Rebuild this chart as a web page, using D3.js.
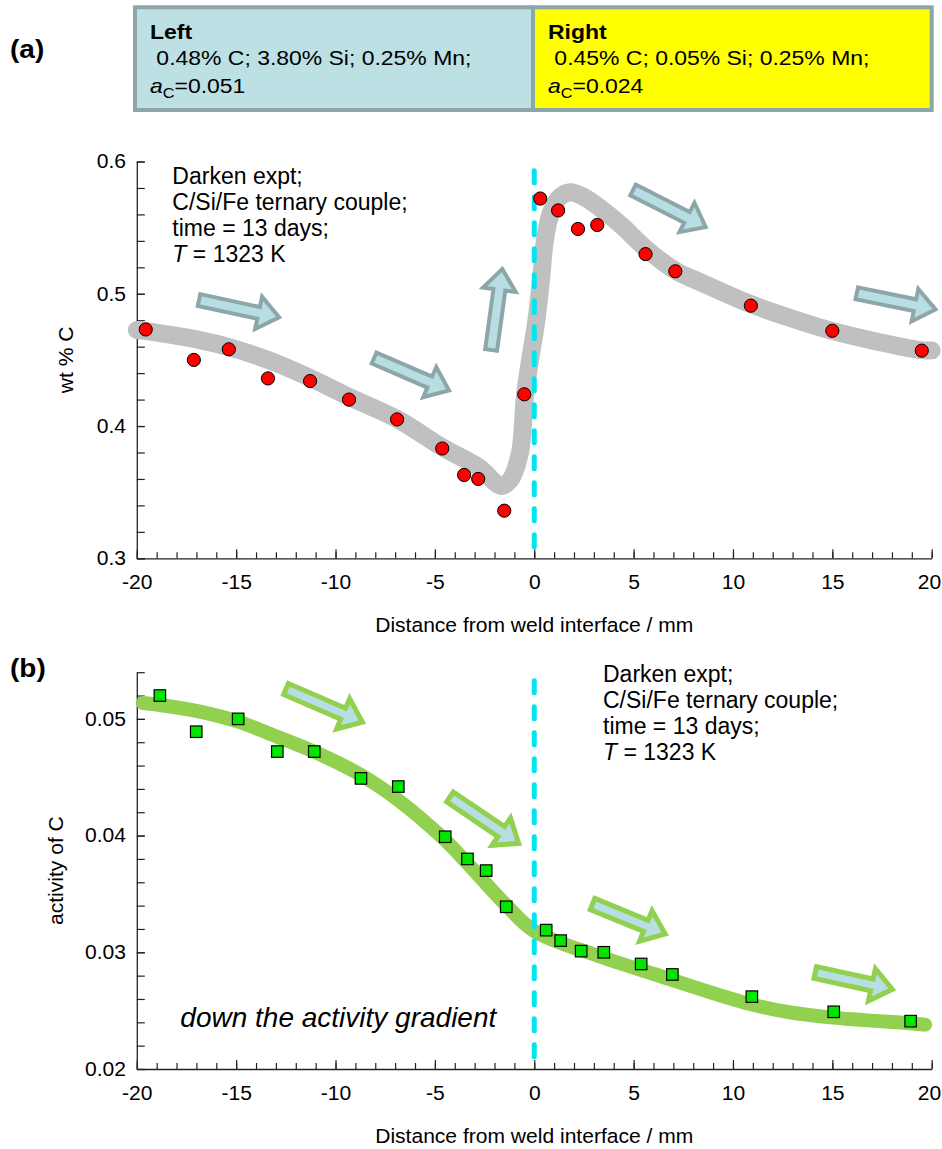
<!DOCTYPE html>
<html>
<head>
<meta charset="utf-8">
<script src="https://cdn.jsdelivr.net/npm/d3@7"></script>
<style>
  body { margin: 0; background: #fff; }
  svg { display: block; font-family: "Liberation Sans", Arial, Helvetica, sans-serif; }
</style>
</head>
<body>
<svg id="chart" width="942" height="1149"></svg>
<script>
// ---------- Data ----------
// (a) measured carbon content across the weld
const carbonDist = [-19.55, -17.13, -15.37, -13.4, -11.28, -9.32, -6.9, -4.63, -3.53, -2.82, -1.51,
                    -0.5, 0.3, 1.2, 2.2, 3.17, 5.6, 7.1, 10.9, 15.0, 19.5];
const carbonWt   = [0.473, 0.450, 0.458, 0.436, 0.434, 0.420, 0.405, 0.383, 0.363, 0.360, 0.336,
                    0.424, 0.572, 0.563, 0.549, 0.552, 0.530, 0.517, 0.491, 0.472, 0.457];
// (a) smoothed profile drawn through the measurements
const carbonFitDist = [-20, -19.54, -16.82, -15.36, -13.4, -11.28, -9.32, -6.9, -4.64, -3.53, -2.73, -1.67,
                       -1.21, -0.73, -0.46, -0.21, 0.09, 0.34, 0.54, 0.85, 1.3, 1.8, 2.46, 3.31, 4.42,
                       5.58, 7.09, 8.34, 10.87, 12.88, 14.99, 16.9, 19.47, 20.0];
const carbonFitWt   = [0.4726, 0.4717, 0.465, 0.4597, 0.450, 0.4364, 0.4220, 0.4053, 0.3841, 0.3751, 0.3682, 0.3547,
                       0.3592, 0.379, 0.4242, 0.450, 0.4779, 0.5104, 0.5406, 0.5618, 0.5732, 0.5768, 0.5735, 0.5649, 0.5512,
                       0.5346, 0.5176, 0.5089, 0.4923, 0.4817, 0.4719, 0.465, 0.4574, 0.4572];

// (b) carbon activity across the weld
const activityDist = [-18.84, -17.01, -14.9, -12.93, -11.07, -8.72, -6.84, -4.48, -3.36, -2.42, -1.41,
                      0.6, 1.33, 2.36, 3.5, 5.38, 6.95, 10.95, 15.07, 18.94];
const activityVal  = [0.0520, 0.0489, 0.0500, 0.0472, 0.0472, 0.0449, 0.0442, 0.0399, 0.0380, 0.0370, 0.0339,
                      0.0319, 0.0310, 0.0301, 0.0300, 0.0290, 0.0281, 0.0262, 0.0249, 0.0241];
// (b) smoothed activity profile
const activityFitDist = [-19.69, -18.83, -16.82, -14.9, -12.94, -11.08, -8.72, -6.85, -4.49, -3.38, -1.42,
                         0, 3.34, 6.37, 8.6, 10.9, 12.8, 15.03, 18.91, 19.67];
const activityFitVal  = [0.05136, 0.05119, 0.05062, 0.04976, 0.04847, 0.04719, 0.04519, 0.04305, 0.03962, 0.03765, 0.03405,
                         0.03183, 0.02962, 0.02795, 0.02672, 0.02555, 0.02487, 0.02440, 0.02392, 0.02380];

// Axis ticks
const xTicks  = [-20, -15, -10, -5, 0, 5, 10, 15, 20];
const yTicksA = [0.3, 0.4, 0.5, 0.6];
const yLabelsA = ["0.3", "0.4", "0.5", "0.6"];
const yTicksB = [0.02, 0.03, 0.04, 0.05];
const yLabelsB = ["0.02", "0.03", "0.04", "0.05"];

// Header: the two halves of the couple
const sideNames = ["Left", "Right"];
const sideCompositions = [" 0.48% C; 3.80% Si; 0.25% Mn;", " 0.45% C; 0.05% Si; 0.25% Mn;"];
const sideActivities = ["0.051", "0.024"];

// Annotation text
const exptLines = ["Darken expt;", "C/Si/Fe ternary couple;", "time = 13 days;", "= 1323 K"];

// Direction-of-flow arrows, [tailX, tailY, tipX, tipY] in axis units
const arrowsA = [[-16.87, 0.4953, -12.69, 0.4817], [-8.06, 0.4514, -4.15, 0.426], [-2.17, 0.4575, -1.59, 0.521],
                 [4.97, 0.5785, 8.76, 0.5495], [16.23, 0.5004, 20.34, 0.4877]];
const arrowsB = [[-12.49, 0.05256, -8.51, 0.04962], [-4.24, 0.04331, -0.66, 0.03919],
                 [2.93, 0.03414, 6.73, 0.03148], [14.14, 0.02827, 18.17, 0.02677]];

// ---------- Layout ----------
const svg = d3.select("#chart");
const xA = d3.scaleLinear().domain([-20, 20]).range([136.8, 931.7]);
const yA = d3.scaleLinear().domain([0.3, 0.6]).range([558.3, 161.5]);
const xB = d3.scaleLinear().domain([-20, 20]).range([136.8, 931.7]);
const yB = d3.scaleLinear().domain([0.02, 0.054]).range([1069, 672.2]);

const AXIS_COLOR = "#222";
const TICK_FONT = 19.5, STRETCH = 1.08;

// ---------- Header boxes ----------
const header = svg.append("g");
const boxX = [135, 533], boxW = [398, 398.7], boxFill = ["#BCE0E3", "#FFFF00"];
sideNames.forEach((name, i) => {
  header.append("rect")
    .attr("x", boxX[i]).attr("y", 7.3).attr("width", boxW[i]).attr("height", 102.7)
    .attr("fill", boxFill[i]).attr("stroke", "#8DA6A9").attr("stroke-width", 4);
  const tx = boxX[i] + 15;
  const hs = 1.12, fs = 20.5;
  header.append("text")
    .attr("transform", `translate(${tx},38.5) scale(${hs},1)`)
    .attr("font-size", fs).attr("font-weight", "bold").attr("fill", "#000")
    .text(name);
  header.append("text")
    .attr("transform", `translate(${tx},65) scale(${hs},1)`)
    .attr("font-size", fs).attr("fill", "#000")
    .style("white-space", "pre")
    .text(sideCompositions[i]);
  const act = header.append("text")
    .attr("transform", `translate(${tx},93) scale(${hs},1)`)
    .attr("font-size", fs).attr("fill", "#000");
  act.append("tspan").attr("font-style", "italic").text("a");
  act.append("tspan").attr("font-size", 14.5).attr("dy", 5).text("C");
  act.append("tspan").attr("dy", -5).text("=" + sideActivities[i]);
});

// Panel letters
svg.append("text").attr("transform", "translate(10,58) scale(1.12,1)")
  .attr("font-size", 25).attr("font-weight", "bold").text("(a)");
svg.append("text").attr("transform", "translate(10,677) scale(1.12,1)")
  .attr("font-size", 25).attr("font-weight", "bold").text("(b)");

// ---------- Axes ----------
function drawAxes(x, y, yMajor, yLabels, yMinorStep, yTitle, yTitleX) {
  const x0 = x.range()[0], yBase = y.range()[0];
  const g = svg.append("g");
  const yMinor = d3.range(y.domain()[0], y.domain()[1] + yMinorStep / 2, yMinorStep);

  // y axis: minor then labelled majors, ticks pointing inwards
  const gyMinor = g.append("g").attr("transform", `translate(${x0},0)`)
    .call(d3.axisLeft(y).tickValues(yMinor).tickSize(-8).tickSizeOuter(0).tickFormat(""));
  gyMinor.select(".domain").remove();
  g.append("g").attr("transform", `translate(${x0},0)`)
    .call(d3.axisLeft(y).tickValues(yMajor).tickSize(-8).tickSizeOuter(0).tickPadding(10)
      .tickFormat((d, i) => yLabels[i]));

  // x axis: unit minor ticks and labelled majors
  const gxMinor = g.append("g").attr("transform", `translate(0,${yBase})`)
    .call(d3.axisBottom(x).tickValues(d3.range(-20, 21, 1)).tickSize(-6).tickSizeOuter(0).tickFormat(""));
  gxMinor.select(".domain").remove();
  const gx = g.append("g").attr("transform", `translate(0,${yBase})`)
    .call(d3.axisBottom(x).tickValues(xTicks).tickSize(-9).tickSizeOuter(0).tickPadding(17)
      .tickFormat(d => String(d)));

  g.selectAll(".domain").attr("stroke", AXIS_COLOR).attr("stroke-width", 1.3);
  g.selectAll(".tick line").attr("stroke", AXIS_COLOR).attr("stroke-width", 1.2);
  g.selectAll("g").attr("font-family", null).attr("font-size", null);
  g.selectAll(".tick text").attr("fill", "#000").attr("font-size", TICK_FONT)
    .attr("transform", `scale(${STRETCH},1)`);
  // keep the last label inside the page edge
  gx.selectAll(".tick text").filter(d => d === 20).attr("dx", -2.5);

  // Axis titles
  g.append("text")
    .attr("transform", `translate(${(x.range()[0] + x.range()[1]) / 2},${yBase + 74}) scale(${STRETCH},1)`)
    .attr("text-anchor", "middle").attr("font-size", TICK_FONT).attr("fill", "#000")
    .text("Distance from weld interface / mm");
  const ym = (y.range()[0] + y.range()[1]) / 2;
  g.append("text")
    .attr("transform", `translate(${yTitleX},${ym}) rotate(-90) scale(${STRETCH},1)`)
    .attr("text-anchor", "middle").attr("dy", "0.35em").attr("font-size", TICK_FONT).attr("fill", "#000")
    .text(yTitle);
}

drawAxes(xA, yA, yTicksA, yLabelsA, 0.02, "wt % C", 66);
drawAxes(xB, yB, yTicksB, yLabelsB, 0.002, "activity of C", 56);

// ---------- Marks ----------
function flowArrow(g, x, y, a, fill, stroke, sw) {
  const p0 = [x(a[0]), y(a[1])], p1 = [x(a[2]), y(a[3])];
  const L = Math.hypot(p1[0] - p0[0], p1[1] - p0[1]);
  const ang = Math.atan2(p1[1] - p0[1], p1[0] - p0[0]) * 180 / Math.PI;
  const w = 6, H = 16.5, h = 21, tip = L - 3;
  const pts = [[0, -w], [tip - h, -w], [tip - h, -H], [tip, 0], [tip - h, H], [tip - h, w], [0, w]];
  g.append("path")
    .attr("transform", `translate(${p0[0]},${p0[1]}) rotate(${ang})`)
    .attr("d", "M" + pts.map(p => p.join(",")).join("L") + "Z")
    .attr("fill", fill).attr("stroke", stroke).attr("stroke-width", sw)
    .attr("stroke-linejoin", "miter");
}

function interfaceLine(g, x, y, yTop, yBottom) {
  g.append("line")
    .attr("x1", x(0)).attr("x2", x(0)).attr("y1", y(yTop)).attr("y2", y(yBottom))
    .attr("stroke", "#00E5F0").attr("stroke-width", 5)
    .attr("stroke-linecap", "round").attr("stroke-dasharray", "12,14");
}

function exptNote(g, x, y, px, py, size) {
  const t = g.append("text").attr("font-size", size).attr("fill", "#000");
  exptLines.forEach((line, i) => {
    const s = t.append("tspan").attr("x", x(px)).attr("y", y(py) + i * 26);
    if (i === 3) {
      s.append("tspan").attr("font-style", "italic").text("T");
      s.append("tspan").text(" " + line);
    } else {
      s.text(line);
    }
  });
}

// Panel (a)
const gA = svg.append("g");
gA.append("path")
  .datum(d3.zip(carbonFitDist, carbonFitWt))
  .attr("d", d3.line().x(d => xA(d[0])).y(d => yA(d[1])).curve(d3.curveCatmullRom.alpha(0.5)))
  .attr("fill", "none").attr("stroke", "#C0C0C0").attr("stroke-width", 18)
  .attr("stroke-linecap", "round").attr("stroke-linejoin", "round");
interfaceLine(gA, xA, yA, 0.593, 0.3);
gA.selectAll("circle.pt").data(d3.zip(carbonDist, carbonWt)).join("circle")
  .attr("class", "pt")
  .attr("cx", d => xA(d[0])).attr("cy", d => yA(d[1])).attr("r", 6.6)
  .attr("fill", "#FF0000").attr("stroke", "#000").attr("stroke-width", 1);
arrowsA.forEach(a => flowArrow(gA, xA, yA, a, "#B7DEE2", "#8DA6A9", 4));
exptNote(gA, xA, yA, -18.21, 0.58276, 23);

// Panel (b)
const gB = svg.append("g");
gB.append("path")
  .datum(d3.zip(activityFitDist, activityFitVal))
  .attr("d", d3.line().x(d => xB(d[0])).y(d => yB(d[1])).curve(d3.curveCatmullRom.alpha(0.5)))
  .attr("fill", "none").attr("stroke", "#92D050").attr("stroke-width", 14)
  .attr("stroke-linecap", "round").attr("stroke-linejoin", "round");
interfaceLine(gB, xB, yB, 0.05326, 0.02);
const sq = 11.5;
gB.selectAll("rect.pt").data(d3.zip(activityDist, activityVal)).join("rect")
  .attr("class", "pt")
  .attr("x", d => xB(d[0]) - sq / 2).attr("y", d => yB(d[1]) - sq / 2)
  .attr("width", sq).attr("height", sq)
  .attr("fill", "#00E600").attr("stroke", "#000").attr("stroke-width", 1.2);
arrowsB.forEach(a => flowArrow(gB, xB, yB, a, "#B7DEE2", "#92D050", 5));
exptNote(gB, xB, yB, 3.46, 0.05314, 23);
gB.append("text")
  .attr("x", xB(-17.81)).attr("y", yB(0.02362))
  .attr("font-size", 28).attr("font-style", "italic").attr("fill", "#000")
  .text("down the activity gradient");
</script>
</body>
</html>
